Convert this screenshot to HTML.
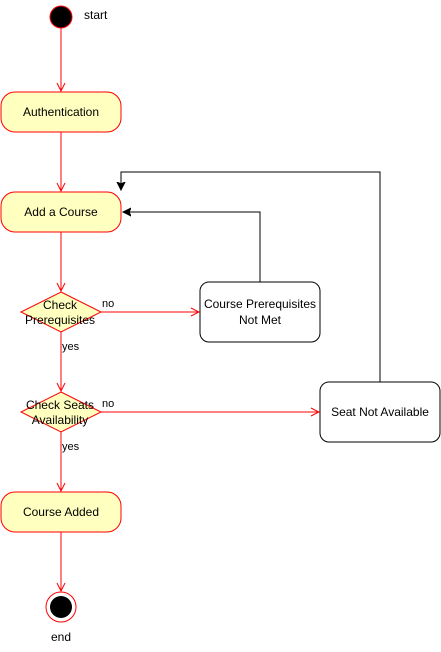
<!DOCTYPE html>
<html><head><meta charset="utf-8"><style>
html,body{margin:0;padding:0;background:#fff;}
svg{display:block;}
text{font-family:"Liberation Sans",Arial,sans-serif;font-size:12px;fill:#000;}
</style></head><body>
<svg width="441" height="652" viewBox="0 0 441 652" xmlns="http://www.w3.org/2000/svg">
<defs>
<marker id="oa" markerWidth="10" markerHeight="10" refX="9" refY="5" orient="auto" markerUnits="userSpaceOnUse">
<path d="M1,1 L9,5 L1,9" fill="none" stroke="#ff0000" stroke-width="1"/>
</marker>
<marker id="fa" markerWidth="10" markerHeight="10" refX="8" refY="5" orient="auto" markerUnits="userSpaceOnUse">
<path d="M0,1 L8,5 L0,9 L2,5 Z" fill="#000" stroke="#000"/>
</marker>
</defs>
<g stroke="#ff0000" stroke-width="1" fill="none">
<line x1="61" y1="28" x2="61" y2="91" marker-end="url(#oa)"/>
<line x1="61" y1="132" x2="61" y2="191" marker-end="url(#oa)"/>
<line x1="61" y1="232" x2="61" y2="291" marker-end="url(#oa)"/>
<line x1="61" y1="332" x2="61" y2="391" marker-end="url(#oa)"/>
<line x1="61" y1="432" x2="61" y2="491" marker-end="url(#oa)"/>
<line x1="61" y1="532" x2="61" y2="591" marker-end="url(#oa)"/>
<line x1="101" y1="312" x2="199" y2="312" marker-end="url(#oa)"/>
<line x1="101" y1="412" x2="319" y2="412" marker-end="url(#oa)"/>
</g>
<g stroke="#000" stroke-width="1" fill="none">
<polyline points="260,282 260,212 123,212" marker-end="url(#fa)"/>
<polyline points="380,382 380,172 121,172 121,190" marker-end="url(#fa)"/>
</g>
<circle cx="61" cy="17" r="11" fill="#000" stroke="#ff0000"/>
<text x="84" y="19">start</text>
<rect x="1" y="92" width="120" height="40" rx="14" fill="#ffffc0" stroke="#ff0000"/>
<text x="61" y="116" text-anchor="middle">Authentication</text>
<rect x="1" y="192" width="120" height="40" rx="14" fill="#ffffc0" stroke="#ff0000"/>
<text x="61" y="216" text-anchor="middle">Add a Course</text>
<polygon points="61,292 101,312 61,332 21,312" fill="#ffffc0" stroke="#ff0000"/>
<text x="60" y="309" text-anchor="middle">Check</text>
<text x="60" y="324" text-anchor="middle">Prerequisites</text>
<text x="102" y="307" style="font-size:11px">no</text>
<text x="62" y="350" style="font-size:11px">yes</text>
<polygon points="61,392 101,412 61,432 21,412" fill="#ffffc0" stroke="#ff0000"/>
<text x="60" y="409" text-anchor="middle">Check Seats</text>
<text x="60" y="424" text-anchor="middle">Availability</text>
<text x="102" y="407" style="font-size:11px">no</text>
<text x="62" y="450" style="font-size:11px">yes</text>
<rect x="1" y="492" width="120" height="40" rx="14" fill="#ffffc0" stroke="#ff0000"/>
<text x="61" y="516" text-anchor="middle">Course Added</text>
<circle cx="61" cy="607" r="15" fill="#fff" stroke="#ff0000"/>
<circle cx="61" cy="607" r="11" fill="#000"/>
<text x="61" y="641" text-anchor="middle">end</text>
<rect x="200" y="282" width="120" height="60" rx="9" fill="#fff" stroke="#000"/>
<text x="260" y="308" text-anchor="middle">Course Prerequisites</text>
<text x="260" y="324" text-anchor="middle">Not Met</text>
<rect x="320" y="382" width="120" height="60" rx="9" fill="#fff" stroke="#000"/>
<text x="380" y="416" text-anchor="middle">Seat Not Available</text>
</svg>
</body></html>
